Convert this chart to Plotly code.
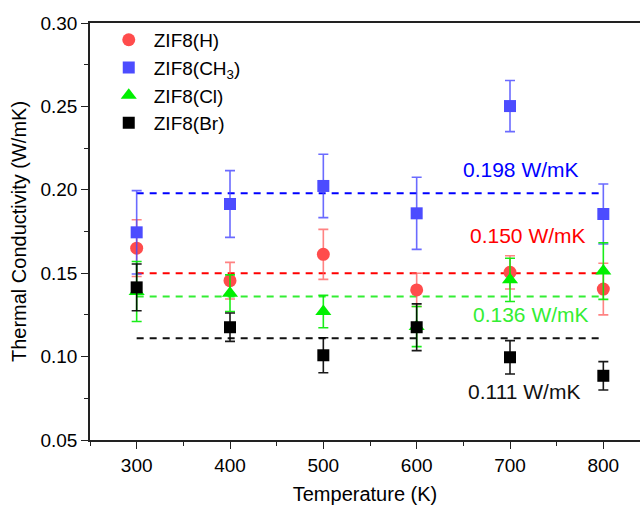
import plotly.graph_objects as go

temps = [300, 400, 500, 600, 700, 800]

h_vals = [0.165, 0.1455, 0.1613, 0.140, 0.1505, 0.1405]
h_err = [0.017, 0.011, 0.015, 0.010, 0.010, 0.0155]

ch3_vals = [0.1745, 0.1915, 0.2023, 0.1859, 0.2502, 0.1855]
ch3_err = [0.025, 0.020, 0.019, 0.0216, 0.0153, 0.018]

cl_vals = [0.139, 0.138, 0.127, 0.118, 0.146, 0.1513]
cl_err = [0.018, 0.011, 0.0097, 0.012, 0.013, 0.017]

br_vals = [0.1415, 0.1176, 0.1008, 0.1176, 0.0996, 0.0885]
br_err = [0.014, 0.0085, 0.0105, 0.014, 0.010, 0.0085]

avg_vals = [0.198, 0.150, 0.136, 0.111]
avg_labels = ["0.198 W/mK", "0.150 W/mK", "0.136 W/mK", "0.111 W/mK"]
avg_colors = ["#0000FF", "#FF0000", "#33EE33", "#111111"]
avg_label_x = [712, 719, 722, 715]
avg_label_y = [0.2119, 0.1725, 0.125, 0.079]
line_span = [300, 797]

FONT = "Liberation Sans, Arial, sans-serif"
FS = 19

fig = go.Figure()

for v, c in zip(avg_vals, avg_colors):
    fig.add_trace(go.Scatter(x=line_span, y=[v, v], mode="lines",
                             line=dict(color=c, width=2, dash="7px,6px"),
                             showlegend=False, hoverinfo="skip"))

series = [
    ("ZIF8(H)", h_vals, h_err, "circle", 13, "rgb(255,76,76)", "rgba(255,90,90,0.75)"),
    ("ZIF8(CH<sub>3</sub>)", ch3_vals, ch3_err, "square", 12, "rgb(76,76,255)", "rgba(70,70,255,0.8)"),
    ("ZIF8(Cl)", cl_vals, cl_err, "triangle-up", 14, "rgb(0,240,0)", "rgba(0,235,0,0.9)"),
    ("ZIF8(Br)", br_vals, br_err, "square", 12, "rgb(0,0,0)", "rgba(0,0,0,0.9)"),
]
for name, vals, errs, sym, sz, col, ecol in series:
    fig.add_trace(go.Scatter(
        x=temps, y=vals, mode="markers", name=name,
        marker=dict(symbol=sym, size=sz, color=col, line=dict(width=0)),
        error_y=dict(type="data", array=errs, visible=True,
                     color=ecol, thickness=1.6, width=5),
    ))

for t, xx, yy, c in zip(avg_labels, avg_label_x, avg_label_y, avg_colors):
    fig.add_annotation(x=xx, y=yy, text=t, showarrow=False,
                       font=dict(family=FONT, size=21, color=c),
                       xanchor="center", yanchor="middle")

fig.update_layout(
    width=640, height=508,
    margin=dict(l=90, r=0, t=23, b=68),
    paper_bgcolor="white", plot_bgcolor="white",
    font=dict(family=FONT, size=FS, color="black"),
    legend=dict(x=0.025, y=1.005, xanchor="left", yanchor="top",
                bgcolor="rgba(0,0,0,0)", font=dict(size=19),
                tracegroupgap=0, itemwidth=40),
)
fig.update_xaxes(
    range=[250, 250 + 550 * 600 / 560],
    tickmode="array", tickvals=[300, 400, 500, 600, 700, 800],
    ticks="outside", ticklen=7, tickwidth=1.3, tickcolor="#222",
    minor=dict(tickvals=[250, 350, 450, 550, 650, 750, 850], ticks="outside",
               ticklen=4, tickwidth=1.3, tickcolor="#222"),
    showline=True, linewidth=1.5, linecolor="#222", mirror=True,
    showgrid=False, zeroline=False,
    title=dict(text="Temperature (K)", font=dict(size=20), standoff=12),
    tickfont=dict(size=FS),
)
fig.update_yaxes(
    range=[0.05, 0.30],
    tickmode="array", tickvals=[0.05, 0.10, 0.15, 0.20, 0.25, 0.30],
    ticktext=["0.05", "0.10", "0.15", "0.20", "0.25", "0.30"],
    ticks="outside", ticklen=7, tickwidth=1.3, tickcolor="#222",
    minor=dict(tickvals=[0.075, 0.125, 0.175, 0.225, 0.275], ticks="outside",
               ticklen=4, tickwidth=1.3, tickcolor="#222"),
    showline=True, linewidth=1.5, linecolor="#222", mirror=False,
    showgrid=False, zeroline=False,
    title=dict(text="Thermal Conductivity (W/mK)", font=dict(size=20), standoff=8),
    tickfont=dict(size=FS),
)

fig.write_html("out.html")
